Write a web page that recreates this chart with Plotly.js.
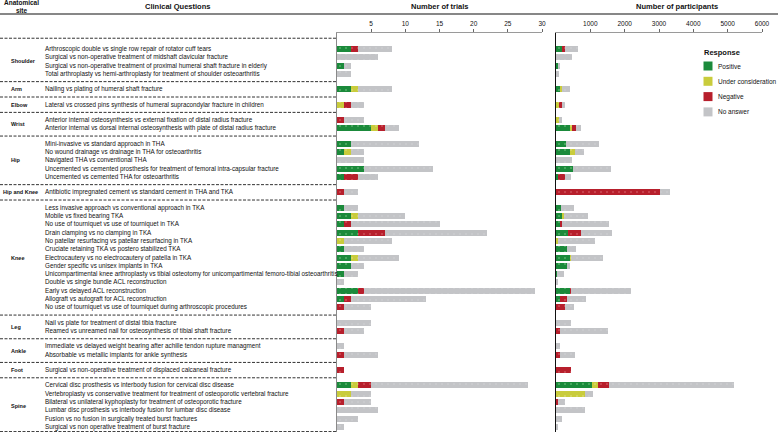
<!DOCTYPE html>
<html>
<head>
<meta charset="utf-8">
<script src="https://cdn.plot.ly/plotly-3.0.1.min.js"></script>
<style>html,body{margin:0;padding:0;background:#fff}#chart{width:778px;height:434px}</style>
</head>
<body>
<div id="chart"></div>
<script>
const sites = ['Shoulder','Arm','Elbow','Wrist','Hip','Hip and Knee','Knee','Leg','Ankle','Foot','Spine'];
const questionSite = [0,0,0,0,1,2,3,3,4,4,4,4,4,5,6,6,6,6,6,6,6,6,6,6,6,6,6,7,7,8,8,9,10,10,10,10,10,10];
const questions = [
 'Arthroscopic double vs single row repair of rotator cuff tears',
 'Surgical vs non-operative treatment of midshaft clavicular fracture',
 'Surgical vs non-operative treatment of proximal humeral shaft fracture in elderly',
 'Total arthroplasty vs hemi-arthroplasty for treatment of shoulder osteoarthritis',
 'Nailing vs plating of humeral shaft fracture',
 'Lateral vs crossed pins synthesis of humeral supracondylar fracture in children',
 'Anterior internal osteosynthesis vs external fixation of distal radius fracture',
 'Anterior internal vs dorsal internal osteosynthesis with plate of distal radius fracture',
 'Mini-invasive vs standard approach in THA',
 'No wound drainage vs drainage in THA for osteoarthritis',
 'Navigated THA vs conventional THA',
 'Uncemented vs cemented prosthesis for treatment of femoral intra-capsular fracture',
 'Uncemented vs cemented THA for osteoarthritis',
 'Antibiotic impregnated cement vs standard cement in THA and TKA',
 'Less invasive approach vs conventional approach in TKA',
 'Mobile vs fixed bearing TKA',
 'No use of tourniquet vs use of tourniquet in TKA',
 'Drain clamping vs no clamping in TKA',
 'No patellar resurfacing vs patellar resurfacing in TKA',
 'Cruciate retaining TKA vs postero stabilized TKA',
 'Electrocautery vs no electrocautery of patella in TKA',
 'Gender specific vs unisex implants in TKA',
 'Unicompartimental knee arthroplasty vs tibial osteotomy for unicompartimental femoro-tibial osteoarthritis',
 'Double vs single bundle ACL reconstruction',
 'Early vs delayed ACL reconstruction',
 'Allograft vs autograft for ACL reconstruction',
 'No use of tourniquet vs use of tourniquet during arthroscopic procedures',
 'Nail vs plate for treatment of distal tibia fracture',
 'Reamed vs unreamed nail for osteosynthesis of tibial shaft fracture',
 'Immediate vs delayed weight bearing after achille tendon rupture managment',
 'Absorbable vs metallic implants for ankle synthesis',
 'Surgical vs non-operative treatment of displaced calcaneal fracture',
 'Cervical disc prosthesis vs interbody fusion for cervical disc disease',
 'Vertebroplasty vs conservative treatment for treatment of osteoporotic vertebral fracture',
 'Bilateral vs unilateral kyphoplasty for treatment of osteoporotic fracture',
 'Lumbar disc prosthesis vs interbody fusion for lumbar disc disease',
 'Fusion vs no fusion in surgically treated burst fractures',
 'Surgical vs non operative treatment of burst fracture'
];
const responses = ['Positive','Under consideration','Negative','No answer'];

// Number of trials
const trialsPositive = [2,0,1,0,2,0,0,5,2,1,0,4,1,0,1,2,1,3,0,1,2,2,1,0,3,1,0,0,0,0,0,0,2,0,0,0,0,0];
const trialsUnder    = [0,0,0,0,1,1,0,1,0,1,0,0,0,0,0,1,0,0,1,0,1,0,0,0,0,0,0,0,0,0,0,0,1,2,0,0,0,0];
const trialsNegative = [1,0,0,0,0,1,1,1,0,0,0,0,2,1,0,0,1,4,0,0,0,0,0,0,1,1,1,0,1,0,1,1,2,0,1,0,0,0];
const trialsNone     = [5,6,1,2,5,2,3,2,10,2,4,10,3,2,2,7,13,15,7,3,6,2,2,1,25,11,4,5,3,1,5,0,23,3,4,6,3,1];

// Number of participants
const partPositive = [185,0,70,0,110,0,0,415,300,400,0,505,50,0,155,175,105,340,0,320,400,330,40,0,410,105,0,0,0,0,0,0,1050,0,0,0,0,0];
const partUnder    = [0,0,0,0,75,100,80,40,0,155,0,0,0,0,0,60,0,0,60,0,40,0,0,0,0,0,0,0,0,0,0,0,175,835,0,0,0,0];
const partNegative = [80,0,0,0,0,75,0,115,0,0,0,0,210,3030,0,0,60,390,0,0,0,0,0,0,20,205,260,0,110,0,125,440,310,0,60,0,0,0];
const partNone     = [375,480,55,100,235,95,95,155,950,270,465,1095,175,290,380,700,1390,915,1070,270,940,90,195,70,1740,555,255,440,1415,125,430,0,3650,250,215,845,185,70];

const colors = ['#1b8a3b','#c9cc3c','#b71f2c','#c3c4c7'];
const patFg = ['#4fae65','#d6d866','#cc4a55','#cbcccf'];
const seriesT = [trialsPositive, trialsUnder, trialsNegative, trialsNone];
const seriesP = [partPositive, partUnder, partNegative, partNone];

// row positions: one unit per question plus a gap between anatomical sites
const GAP = 0.85;
const ypos = questions.map((q, i) => i + questionSite[i] * GAP);

const mk = k => ({color:colors[k], line:{width:0},
  pattern:{shape:'.', fgcolor:patFg[k], bgcolor:colors[k], size:6, solidity:0.1}});
const traces = [];
responses.forEach((r, k) => {
  traces.push({type:'bar', orientation:'h', name:r, x:seriesT[k], y:ypos, xaxis:'x', yaxis:'y',
    width:0.72, showlegend:false, marker:mk(k), hoverinfo:'x+name'});
});
responses.forEach((r, k) => {
  traces.push({type:'bar', orientation:'h', name:r, x:seriesP[k], y:ypos, xaxis:'x2', yaxis:'y2',
    width:0.72, showlegend:false, marker:mk(k), hoverinfo:'x+name'});
});

const W = 778, H = 434;
const px = v => v / W, py = v => 1 - v / H;
const yTop = -1.93, yBot = ypos[ypos.length-1] + 0.6;
const txtFont = 'Liberation Sans, Arial, sans-serif';

const annotations = [];
const shapes = [];
questions.forEach((q, i) => {
  annotations.push({text:q, x:px(43), xref:'paper', y:ypos[i], yref:'y', xanchor:'left', yanchor:'middle',
    showarrow:false, font:{size:6.3, color:'#111', family:txtFont}});
});
sites.forEach((s, g) => {
  const idx = questionSite.map((v,i)=>v===g?i:-1).filter(i=>i>=0);
  const mid = (ypos[idx[0]] + ypos[idx[idx.length-1]]) / 2;
  annotations.push({text:'<b>'+s+'</b>', x:px(s.length > 8 ? 1 : 9), xref:'paper', y:mid, yref:'y', xanchor:'left', yanchor:'middle',
    showarrow:false, font:{size:5.5, color:'#111', family:txtFont}});
  const before = g === 0 ? ypos[idx[0]] - 1.3 : (ypos[idx[0]] + ypos[idx[0]-1]) / 2;
  shapes.push({type:'line', xref:'paper', yref:'y', x0:0, x1:px(336), y0:before, y1:before,
    line:{color:'#333', width:1, dash:'3px,1.5px'}});
});
shapes.push({type:'line', xref:'paper', yref:'y', x0:0, x1:px(336), y0:yBot-0.05, y1:yBot-0.05,
  line:{color:'#333', width:1, dash:'3px,1.5px'}});
shapes.push({type:'line', xref:'paper', yref:'paper', x0:0, x1:1, y0:py(14), y1:py(14), line:{color:'#111', width:1.2}});

// legend (drawn by hand to match the compact swatch layout)
annotations.push({text:'<b>Response</b>', x:px(702), y:py(53), xref:'paper', yref:'paper', xanchor:'left', yanchor:'middle',
  showarrow:false, font:{size:7.5, color:'#111', family:txtFont}});
responses.forEach((r, k) => {
  const yc = 66 + k * 15.3;
  shapes.push({type:'rect', xref:'paper', yref:'paper', x0:px(703.5), x1:px(712.5), y0:py(yc-4.5), y1:py(yc+4.5),
    fillcolor:colors[k], line:{width:0}});
  annotations.push({text:r, x:px(716), y:py(yc), xref:'paper', yref:'paper', xanchor:'left', yanchor:'middle',
    showarrow:false, font:{size:6.5, color:'#111', family:txtFont}});
});

const hdr = (t, x, y) => ({text:'<b>'+t+'</b>', x:px(x), y:py(y), xref:'paper', yref:'paper', xanchor:'center', yanchor:'middle',
  showarrow:false, font:{size:7.5, color:'#111', family:txtFont}});
annotations.push({text:'<b>Anatomical<br>site</b>', x:px(21), y:py(7), xref:'paper', yref:'paper', xanchor:'center', yanchor:'middle',
  showarrow:false, font:{size:6.5, color:'#111', family:txtFont}});
annotations.push(hdr('Clinical Questions', 177, 6));
annotations.push(hdr('Number of trials', 440, 6));
annotations.push(hdr('Number of participants', 677, 6));

const xCommon = {side:'top', showgrid:false, zeroline:false, showline:true, ticks:'outside', ticklen:3,
  tickfont:{size:6.5, color:'#111', family:txtFont}, fixedrange:true};
const yCommon = {range:[yBot, yTop], showgrid:false, zeroline:false, showticklabels:false, ticks:'', showline:true};

const layout = {
  width:W, height:H, margin:{l:0, r:0, t:0, b:0}, paper_bgcolor:'#fff', plot_bgcolor:'rgba(0,0,0,0)',
  barmode:'stack', bargap:0, showlegend:false,
  xaxis:Object.assign({}, xCommon, {domain:[px(337), px(542)], range:[0,30], tickvals:[5,10,15,20,25,30],
    anchor:'y', linecolor:'#9a9a9a', linewidth:1.5, tickcolor:'#666'}),
  yaxis:Object.assign({}, yCommon, {domain:[py(432), py(33)], anchor:'x', linecolor:'#8a8a8a', linewidth:1.5}),
  xaxis2:Object.assign({}, xCommon, {domain:[px(556), px(762)], range:[0,6000], tickvals:[1000,2000,3000,4000,5000,6000],
    anchor:'y2', linecolor:'#9a9a9a', linewidth:1.5, tickcolor:'#666'}),
  yaxis2:Object.assign({}, yCommon, {domain:[py(432), py(33)], anchor:'x2', linecolor:'#111', linewidth:1.2}),
  annotations:annotations, shapes:shapes
};
Plotly.newPlot('chart', traces, layout, {displayModeBar:false, staticPlot:true});
</script>
</body>
</html>
